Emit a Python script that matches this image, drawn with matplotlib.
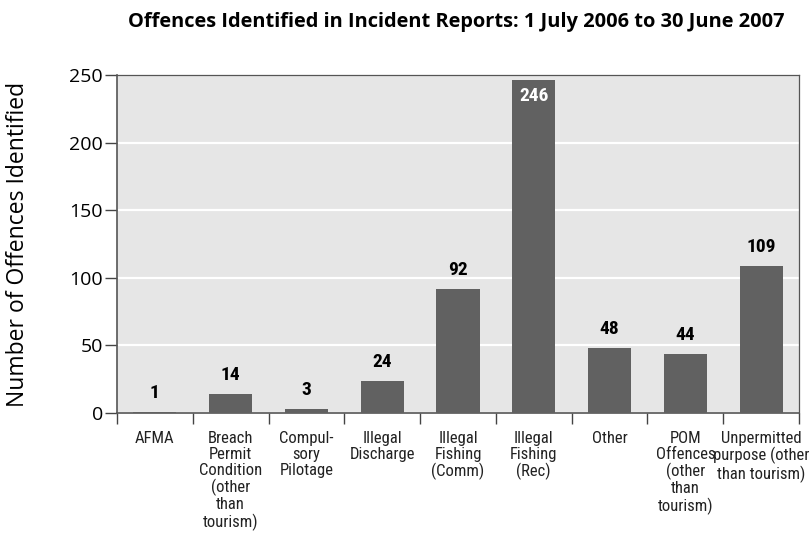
import matplotlib
matplotlib.use("Agg")
import matplotlib.pyplot as plt
from matplotlib.ticker import FixedLocator

categories = [
    "AFMA",
    "Breach\nPermit\nCondition\n(other\nthan\ntourism)",
    "Compul-\nsory\nPilotage",
    "Illegal\nDischarge",
    "Illegal\nFishing\n(Comm)",
    "Illegal\nFishing\n(Rec)",
    "Other",
    "POM\nOffences\n(other\nthan\ntourism)",
    "Unpermitted\npurpose (other\nthan tourism)",
]
offences = [1, 14, 3, 24, 92, 246, 48, 44, 109]
y_ticks = [0, 50, 100, 150, 200, 250]

narrow = ["Roboto Condensed", "DejaVu Sans"]
body = ["Open Sans", "DejaVu Sans"]

fig = plt.figure(figsize=(8.10, 5.59), dpi=100)
ax = fig.add_axes([117 / 810, 146 / 559, 682 / 810, 338 / 559])
ax.set_facecolor("#e6e6e6")

x = list(range(len(categories)))
ax.bar(x, offences, width=0.57, color="#616161", zorder=3)

ax.set_xlim(-0.5, len(categories) - 0.5)
ax.set_ylim(0, 250)
ax.set_yticks(y_ticks)
ax.set_yticklabels([str(v) for v in y_ticks], fontsize=14, family=body,
                   fontstretch="normal")
ax.yaxis.grid(True, color="white", linewidth=1.6, zorder=1)
ax.tick_params(axis="y", length=9, width=1, color="#444444", pad=1)

# category labels centred under bars, tick marks at category boundaries
ax.set_xticks(x)
ax.set_xticklabels(categories, fontsize=12, family=narrow, linespacing=1.08,
                   va="top", color="#222222")
ax.tick_params(axis="x", which="major", length=0, pad=13)
ax.xaxis.set_minor_locator(FixedLocator([i - 0.5 for i in range(len(categories) + 1)]))
ax.tick_params(axis="x", which="minor", length=8, width=1, color="#444444")

for side in ["top", "right"]:
    ax.spines[side].set_color("#555555")
    ax.spines[side].set_linewidth(0.9)
for side in ["left", "bottom"]:
    ax.spines[side].set_color("#555555")
    ax.spines[side].set_linewidth(1.2)

for i, v in enumerate(offences):
    if v > 200:
        ax.annotate(str(v), (i, v), xytext=(0, -5), textcoords="offset points",
                    ha="center", va="top", fontsize=14, fontweight="bold",
                    family=narrow, color="white", zorder=4)
    else:
        ax.annotate(str(v), (i, v), xytext=(0, 7), textcoords="offset points",
                    ha="center", va="bottom", fontsize=14, fontweight="bold",
                    family=narrow, color="black", zorder=4)

ax.set_ylabel("Number of Offences Identified", fontsize=16.5, family=body,
              fontstretch="normal")
ax.yaxis.set_label_coords(-0.127, 0.5)

fig.text(0.563, 0.961, "Offences Identified in Incident Reports: 1 July 2006 to 30 June 2007",
         ha="center", va="center", fontsize=14.4, fontweight="bold", family=body,
         fontstretch="normal")

fig.savefig("out.png", dpi=100)
